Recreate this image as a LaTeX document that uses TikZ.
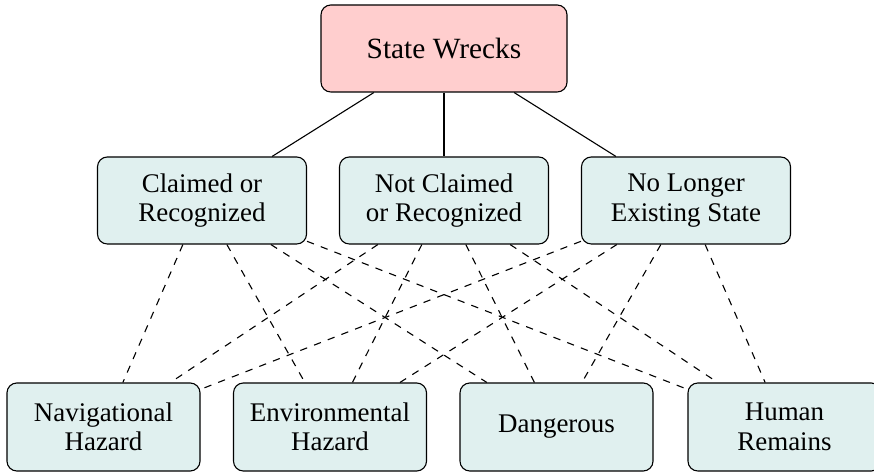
\documentclass[tikz,border=0pt]{standalone}
\usepackage{fontspec}
\setmainfont{Liberation Serif}
\definecolor{toppink}{RGB}{255,206,206}
\definecolor{boxcyan}{RGB}{224,240,239}
\tikzset{
  basebox/.style={draw=black, line width=0.45pt, rounded corners=4pt, align=center, font=\fontsize{11}{12}\selectfont, inner sep=0pt},
  topbox/.style={basebox, fill=toppink, minimum width=246*0.40847pt, minimum height=87*0.40847pt, font=\fontsize{12}{14}\selectfont},
  midbox/.style={basebox, fill=boxcyan, minimum width=209*0.40847pt, minimum height=87*0.40847pt},
  botbox/.style={basebox, fill=boxcyan, minimum width=193*0.40847pt, minimum height=88*0.40847pt},
  solidlink/.style={draw=black, line width=0.45pt},
  dashlink/.style={draw=black, line width=0.45pt, dashed}
}
\begin{document}
\begin{tikzpicture}[x=0.40847pt, y=-0.40847pt]
\useasboundingbox (0,0) rectangle (874,472);
\coordinate (cT) at (444,48.5);
\coordinate (cA) at (202,200.5);
\coordinate (cB) at (444,200.5);
\coordinate (cC) at (686,200.5);
\coordinate (c1) at (103.5,427);
\coordinate (c2) at (330,427);
\coordinate (c3) at (556.5,427);
\coordinate (c4) at (784.5,427);
\node[topbox] (top) at (cT) {State Wrecks};
\node[midbox] (mA) at (cA) {Claimed or\\Recognized};
\node[midbox] (mB) at (cB) {Not Claimed\\or Recognized};
\node[midbox] (mC) at (cC) {No Longer\\Existing State};
\node[botbox] (b1) at (c1) {Navigational\\Hazard};
\node[botbox] (b2) at (c2) {Environmental\\Hazard};
\node[botbox] (b3) at (c3) {Dangerous};
\node[botbox] (b4) at (c4) {Human\\Remains};
\foreach \m in {mA,mB,mC}{
  \draw[solidlink] (top) -- (\m);
  \foreach \b in {b1,b2,b3,b4}{
    \draw[dashlink] (\m) -- (\b);
  }
}
\end{tikzpicture}
\end{document}
